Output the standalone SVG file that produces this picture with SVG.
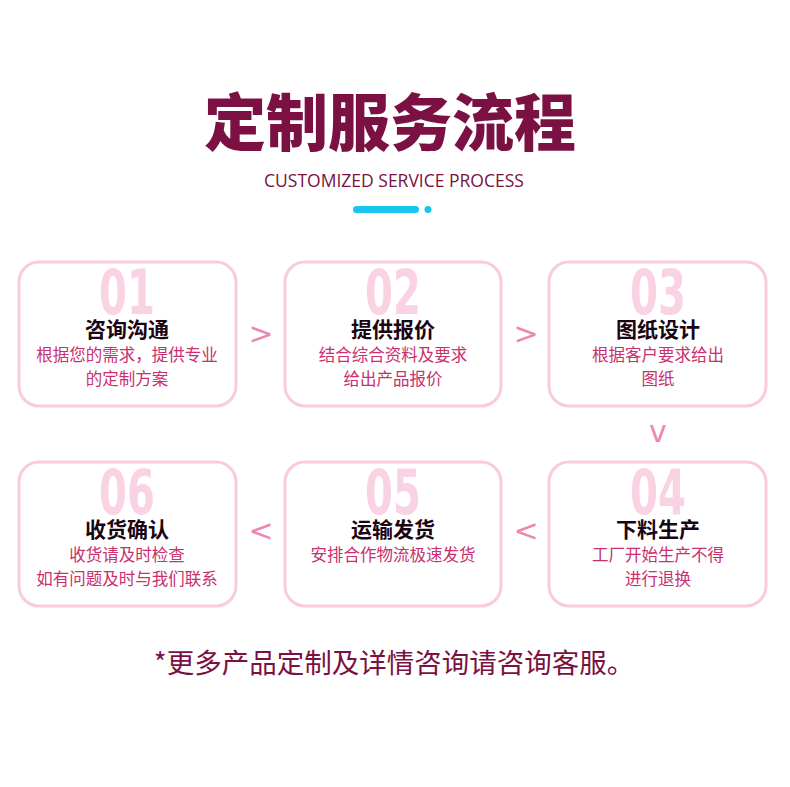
<svg xmlns="http://www.w3.org/2000/svg" width="790" height="787" viewBox="0 0 790 787">
<style>
.box{fill:#fff;stroke:#f9cbdd;stroke-width:3}
.num{font-family:"DejaVu Sans Condensed","Liberation Sans",sans-serif;font-weight:bold;font-size:62px;fill:#f9d3e3;text-anchor:middle}
.t{font-family:"Noto Sans CJK SC",sans-serif;font-weight:bold;font-size:21px;fill:#1a0512;text-anchor:middle}
.d{font-family:"Noto Sans CJK SC",sans-serif;font-size:16.5px;fill:#c8306e;text-anchor:middle}
.ar{font-family:"DejaVu Sans",sans-serif;font-size:30px;fill:#ee86b2;text-anchor:middle}
</style>
<rect width="790" height="787" fill="#fff"/>
<g id="header">
<text x="390" y="146" font-family="Noto Sans CJK SC,sans-serif" font-weight="900" font-size="62" fill="#7a1142" text-anchor="middle">定制服务流程</text>
<text x="394" y="187" font-family="Open Sans,sans-serif" font-size="17.5" fill="#7a1142" text-anchor="middle">CUSTOMIZED SERVICE PROCESS</text>
<rect x="353" y="206" width="66" height="7" rx="3.5" fill="#18c5ee"/>
<circle cx="428" cy="209.5" r="3.5" fill="#18c5ee"/>
</g>
<g id="n1"><rect class="box" x="19" y="262" width="217" height="144" rx="20"/><text class="num" transform="translate(127 314) scale(0.72 1)">01</text><text class="t" x="127" y="337">咨询沟通</text><text class="d" x="127" y="361">根据您的需求，提供专业</text><text class="d" x="127" y="385">的定制方案</text></g>
<g id="n2"><rect class="box" x="285" y="262" width="216" height="144" rx="20"/><text class="num" transform="translate(393 314) scale(0.72 1)">02</text><text class="t" x="393" y="337">提供报价</text><text class="d" x="393" y="361">结合综合资料及要求</text><text class="d" x="393" y="385">给出产品报价</text></g>
<g id="n3"><rect class="box" x="549" y="262" width="217" height="144" rx="20"/><text class="num" transform="translate(658 314) scale(0.72 1)">03</text><text class="t" x="658" y="337">图纸设计</text><text class="d" x="658" y="361">根据客户要求给出</text><text class="d" x="658" y="385">图纸</text></g>
<g id="n4"><rect class="box" x="549" y="462" width="217" height="144" rx="20"/><text class="num" transform="translate(658 514) scale(0.72 1)">04</text><text class="t" x="658" y="537">下料生产</text><text class="d" x="658" y="561">工厂开始生产不得</text><text class="d" x="658" y="585">进行退换</text></g>
<g id="n5"><rect class="box" x="285" y="462" width="216" height="144" rx="20"/><text class="num" transform="translate(393 514) scale(0.72 1)">05</text><text class="t" x="393" y="537">运输发货</text><text class="d" x="393" y="561">安排合作物流极速发货</text></g>
<g id="n6"><rect class="box" x="19" y="462" width="217" height="144" rx="20"/><text class="num" transform="translate(127 514) scale(0.72 1)">06</text><text class="t" x="127" y="537">收货确认</text><text class="d" x="127" y="561">收货请及时检查</text><text class="d" x="127" y="585">如有问题及时与我们联系</text></g>
<g id="connectors">
<text class="ar" x="261" y="344">&gt;</text>
<text class="ar" x="526" y="344">&gt;</text>
<text class="ar" x="658" y="442">v</text>
<text class="ar" x="526" y="541">&lt;</text>
<text class="ar" x="261" y="541">&lt;</text>
</g>
<text x="394" y="673" font-family="Noto Sans CJK SC,sans-serif" font-size="27.5" fill="#7a1142" text-anchor="middle">*更多产品定制及详情咨询请咨询客服。</text>
</svg>
